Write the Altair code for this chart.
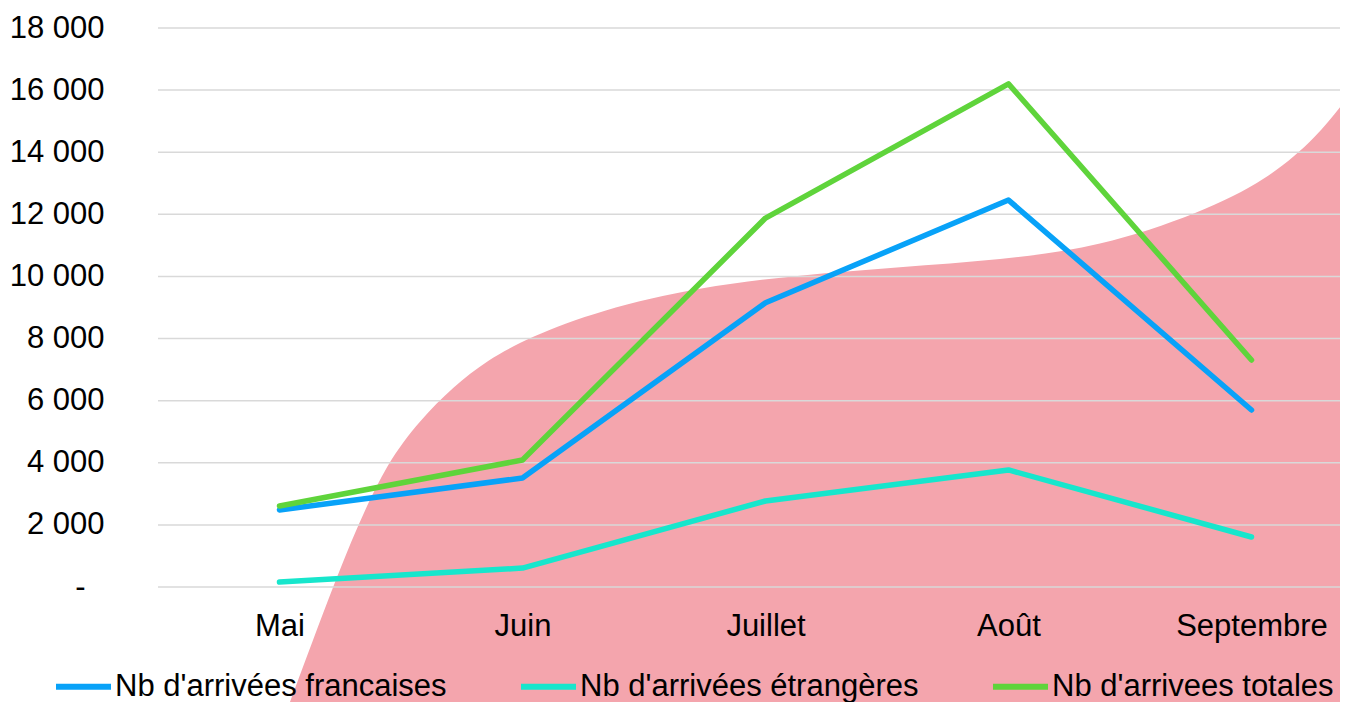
import altair as alt
import pandas as pd

# ---- data ----
months = ["Mai", "Juin", "Juillet", "Août", "Septembre"]
series_names = ["Nb d'arrivées francaises", "Nb d'arrivées étrangères", "Nb d'arrivees totales"]
francaises = [2480, 3510, 9150, 12460, 5700]
etrangeres = [160, 610, 2770, 3770, 1610]
totales = [2610, 4090, 11880, 16200, 7310]
line_colors = ["#08A2F8", "#17E6CC", "#5FD43B"]
y_ticks = [0, 2000, 4000, 6000, 8000, 10000, 12000, 14000, 16000, 18000]

# decorative pink background shape (in month-index / value units)
shape_x = [-0.045, 0.043, 0.138, 0.22, 0.319, 0.442, 0.578, 0.714, 0.854, 1.031,
           1.319, 1.73, 2.142, 2.553, 2.965, 3.376, 3.788, 4.064, 4.27, 4.397, 4.5]
shape_y = [-5570, -3703, -1707, 0, 1932, 3993, 5377, 6440, 7309, 8050,
           8919, 9660, 10046, 10304, 10529, 10948, 12043, 13105, 14490, 15778, 16810]
shape_floor = -5600

PINK = "#F4A5AD"
FONT = "Liberation Sans"

rows = []
for s, vals in zip(series_names, [francaises, etrangeres, totales]):
    for i, (m, v) in enumerate(zip(months, vals)):
        rows.append({"idx": i, "month": m, "series": s, "value": v})
df = pd.DataFrame(rows)
shape_df = pd.DataFrame({"sx": shape_x, "sy": shape_y, "floor": [shape_floor] * len(shape_x)})
grid_df = pd.DataFrame({"v": y_ticks})

W, H = 1182, 559
xs = alt.Scale(domain=[-0.5, -0.5 + W / 243.0], nice=False, zero=False)
ys = alt.Scale(domain=[0, 18000], nice=False)

month_expr = "[" + ",".join("'" + m + "'" for m in months) + "][datum.value]"
x_axis = alt.Axis(values=list(range(len(months))), labelExpr=month_expr, title=None,
                  grid=False, domain=False, ticks=False, labelFontSize=31,
                  labelPadding=24, labelColor="#000000", labelFont=FONT, zindex=1,
                  labelOverlap=False, labelFlush=False)
y_axis = alt.Axis(values=y_ticks, title=None, grid=False, domain=False, ticks=False,
                  labelFontSize=31, labelColor="#000000", labelFont=FONT, zindex=1,
                  labelPadding={"condition": {"test": "datum.value == 0", "value": 73}, "value": 54},
                  labelExpr="datum.value == 0 ? '-' : replace(format(datum.value, ','), ',', ' ')")

area = alt.Chart(shape_df).mark_area(color=PINK, interpolate="basis").encode(
    x=alt.X("sx:Q", scale=xs, axis=x_axis),
    y=alt.Y("sy:Q", scale=ys, axis=y_axis),
    y2="floor:Q",
)

grid = alt.Chart(grid_df).mark_rule(color="#D9D9D9", strokeWidth=1.5).encode(
    y=alt.Y("v:Q", scale=ys),
    x=alt.value(0),
    x2=alt.value(W),
)

lines = alt.Chart(df).mark_line(strokeWidth=5.5, strokeCap="round", strokeJoin="round").encode(
    x=alt.X("idx:Q", scale=xs),
    y=alt.Y("value:Q", scale=ys),
    color=alt.Color("series:N", sort=series_names,
                    scale=alt.Scale(domain=series_names, range=line_colors),
                    legend=alt.Legend(orient="none", legendX=-105, legendY=628,
                                      direction="horizontal", columns=3, title=None,
                                      symbolType="stroke", symbolStrokeWidth=6,
                                      symbolSize=3025, labelFontSize=31, labelFont=FONT,
                                      labelColor="#000000", labelOffset=1,
                                      columnPadding=62, labelLimit=0)),
    order="idx:Q",
)

chart = alt.layer(area, grid, lines).properties(
    width=W, height=H, autosize="none",
    padding={"left": 150, "top": 20, "right": 0, "bottom": 123},
    background="#FFFFFF",
).configure_view(stroke=None)

chart.save("out.html", embed_options={"renderer": "svg", "actions": False})
